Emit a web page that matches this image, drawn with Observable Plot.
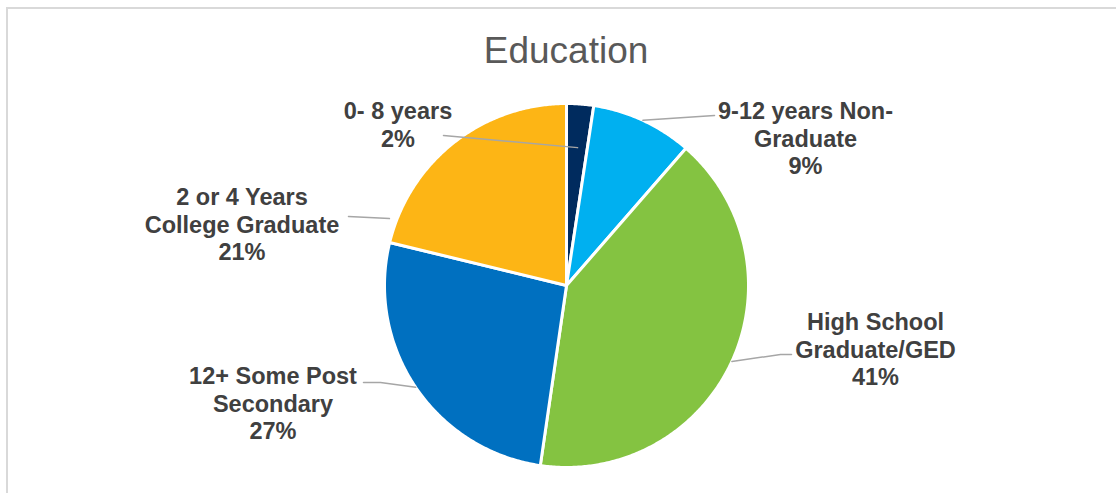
<!DOCTYPE html>
<html><head><meta charset="utf-8">
<script src="https://cdn.jsdelivr.net/npm/d3@7"></script>
<script src="https://cdn.jsdelivr.net/npm/@observablehq/plot@0.6"></script>
<style>
html,body{margin:0;padding:0;background:#fff;}
#wrap{position:relative;width:1116px;height:493px;overflow:hidden;}
#frame{position:absolute;left:6px;top:7px;width:1200px;height:600px;border-left:2px solid #d9d9d9;border-top:2px solid #d9d9d9;pointer-events:none;}
</style></head><body><div id="wrap"><div id="frame"></div></div>
<script>
// ---- data ----
const title = "Education";
const categories = ["0- 8 years", "9-12 years Non-\nGraduate", "High School\nGraduate/GED", "12+ Some Post\nSecondary", "2 or 4 Years\nCollege Graduate"];
const values = [2.4, 9.0, 40.9, 26.5, 21.2];
const colors = ["#002B5E", "#00B0F0", "#84C341", "#0070C0", "#FDB515"];

// ---- layout ----
const W = 1116, H = 493;
const cx = 566, cy = 285, R = 182;
const fs = 23.5, lh = 1.17;
const font = "'Liberation Sans', Arial, sans-serif";
// label centre x, first-line baseline, leader points on label side, leader anchor on slice (angle deg or null=mid, radius factor)
const labelLayout = [
  {x: 397.5, base: 116, path: [[443, 135]], ang: 4.6, rf: 0.76},
  {x: 805, base: 116, path: [[714, 115]], ang: null, rf: 1},
  {x: 875, base: 327, path: [[791, 354], [780, 354]], ang: null, rf: 1},
  {x: 272.5, base: 381, path: [[363, 382], [380, 382]], ang: null, rf: 1},
  {x: 241.5, base: 202, path: [[348, 216]], ang: 290.7, rf: 1.04}
];

const total = d3.sum(values);
let acc = 0;
const slices = values.map((v, i) => {
  const a0 = acc / total * 360; acc += v; const a1 = acc / total * 360;
  return {cat: categories[i], v, a0, a1, mid: (a0 + a1) / 2};
});
const polar = (deg, r) => {
  const a = deg * Math.PI / 180;
  return [cx + r * Math.sin(a), cy - r * Math.cos(a)];
};
const piePts = [];
for (const s of slices) {
  piePts.push({cat: s.cat, x: cx, y: cy});
  const n = Math.max(2, Math.ceil((s.a1 - s.a0) / 0.5));
  for (let k = 0; k <= n; k++) {
    const [x, y] = polar(s.a0 + (s.a1 - s.a0) * k / n, R);
    piePts.push({cat: s.cat, x, y});
  }
  piePts.push({cat: s.cat, x: cx, y: cy});
}
const leaderPts = [];
slices.forEach((s, i) => {
  const L = labelLayout[i];
  L.path.forEach(([x, y]) => leaderPts.push({id: i, x, y}));
  const [x, y] = polar(L.ang == null ? s.mid : L.ang, R * L.rf);
  leaderPts.push({id: i, x, y});
});
const labels = slices.map((s, i) => ({
  x: labelLayout[i].x,
  y: labelLayout[i].base - 0.71 * fs,
  text: s.cat + "\n" + Math.round(s.v) + "%"
}));

const chart = Plot.plot({
  width: W, height: H, margin: 0,
  style: {background: "transparent", fontFamily: font, overflow: "visible"},
  x: {domain: [0, W], range: [0, W], axis: null},
  y: {domain: [0, H], range: [0, H], axis: null},
  color: {type: "ordinal", domain: categories, range: colors},
  marks: [
    Plot.line(piePts, {x: "x", y: "y", z: "cat", fill: "cat", stroke: "white", strokeWidth: 3, strokeLinejoin: "round", curve: "linear"}),
    Plot.line(leaderPts, {x: "x", y: "y", z: "id", stroke: "#A6A6A6", strokeWidth: 1.5}),
    Plot.text(labels, {x: "x", y: "y", text: "text", lineAnchor: "top", textAnchor: "middle", lineHeight: lh, fontSize: fs, fontWeight: "bold", fill: "#404040", fontFamily: font}),
    Plot.text([title], {x: () => 565.5, y: () => 62 - 0.71 * 37, text: d => d, lineAnchor: "top", textAnchor: "middle", fontSize: 37, fill: "#595959", fontFamily: font})
  ]
});
document.getElementById("wrap").prepend(chart);
</script>
</body></html>
